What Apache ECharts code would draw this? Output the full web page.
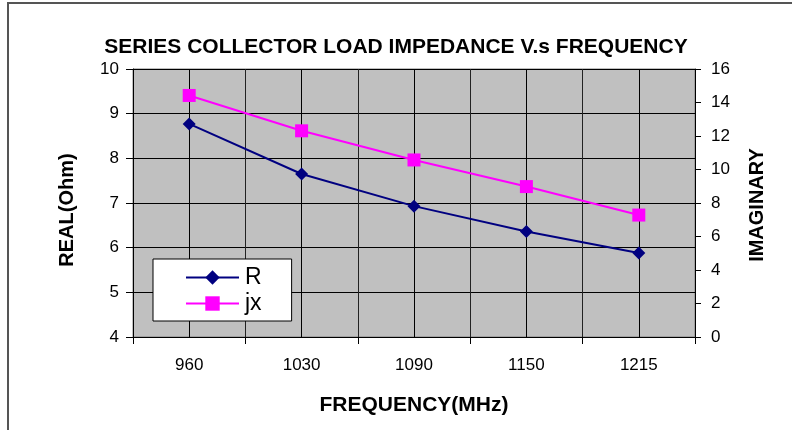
<!DOCTYPE html>
<html><head><meta charset="utf-8">
<script src="https://cdn.jsdelivr.net/npm/echarts@6/dist/echarts.min.js"></script>
<style>html,body{margin:0;padding:0;background:#fff}#c{width:792px;height:430px}</style>
</head><body><div id="c"></div>
<script>
const categories = ['960', '1030', '1090', '1150', '1215'];
const realValues = [8.77, 7.65, 6.93, 6.36, 5.88];
const imagValues = [14.42, 12.31, 10.57, 8.98, 7.28];
const titleText = 'SERIES COLLECTOR LOAD IMPEDANCE V.s FREQUENCY';

const chart = echarts.init(document.getElementById('c'), null, {renderer: 'canvas'});
const F = '"Liberation Sans", Arial, sans-serif';
chart.setOption({
  animation: false,
  backgroundColor: '#fff',
  title: {text: titleText, left: 'center', top: 32,
    textStyle: {fontFamily: F, fontSize: 21, fontWeight: 'bold', color: '#000'}},
  graphic: [
    {type: 'polyline', shape: {points: [[8, 430], [8, 3], [792, 3]]}, style: {stroke: '#555', lineWidth: 2, fill: null}, silent: true}
  ],
  grid: {left: 133, right: 97, top: 69, bottom: 93, show: true, backgroundColor: '#c0c0c0', borderColor: '#808080', borderWidth: 1},
  legend: {
    orient: 'vertical', left: 153, top: 259,
    backgroundColor: '#fff', borderColor: '#000', borderWidth: 1,
    padding: [7, 30, 6, 32], itemGap: 3, itemWidth: 53, itemHeight: 18,
    textStyle: {fontFamily: F, fontSize: 23, color: '#000', padding: [0, 0, 0, 1]},
    data: ['R', 'jx']
  },
  xAxis: [
    {type: 'category', data: categories, boundaryGap: true,
      axisLine: {lineStyle: {color: '#000', width: 1}},
      axisTick: {show: true, alignWithLabel: false, interval: 0, length: 7, lineStyle: {color: '#000'}},
      axisLabel: {fontFamily: F, fontSize: 17, color: '#000', margin: 20, interval: 0},
      splitLine: {show: true, interval: 0, lineStyle: {color: '#222', width: 1}},
      name: 'FREQUENCY(MHz)', nameLocation: 'middle', nameGap: 58,
      nameTextStyle: {fontFamily: F, fontSize: 21, fontWeight: 'bold', color: '#000'}}
  ],
  yAxis: [
    {type: 'value', min: 4, max: 10, interval: 1, position: 'left',
      axisLine: {show: true, lineStyle: {color: '#000'}},
      axisTick: {show: true, length: 7, lineStyle: {color: '#000'}},
      axisLabel: {fontFamily: F, fontSize: 17, color: '#000', margin: 14},
      splitLine: {show: true, lineStyle: {color: '#000', width: 1}},
      name: 'REAL(Ohm)', nameLocation: 'middle', nameGap: 56, nameRotate: 90,
      nameTextStyle: {fontFamily: F, fontSize: 20, fontWeight: 'bold', color: '#000', padding: [0, 14, 0, 0]}},
    {type: 'value', min: 0, max: 16, interval: 2, position: 'right',
      axisLine: {show: true, lineStyle: {color: '#000'}},
      axisTick: {show: true, length: 6, lineStyle: {color: '#000'}},
      axisLabel: {fontFamily: F, fontSize: 17, color: '#000', margin: 16},
      splitLine: {show: false},
      name: 'IMAGINARY', nameLocation: 'middle', nameGap: 52, nameRotate: 90,
      nameTextStyle: {fontFamily: F, fontSize: 20, fontWeight: 'bold', color: '#000', padding: [0, 4, 0, 0]}}
  ],
  series: [
    {name: 'R', type: 'line', xAxisIndex: 0, yAxisIndex: 0, data: realValues,
      symbol: 'diamond', symbolSize: 13, z: 3,
      lineStyle: {color: '#000080', width: 2}, itemStyle: {color: '#000080'},
      markLine: {silent: true, symbol: ['none', 'none'], label: {show: false}, animation: false,
        lineStyle: {color: '#000', width: 1, type: 'solid'}, z: 1,
        data: categories.map(c => ({xAxis: c}))}},
    {name: 'jx', type: 'line', xAxisIndex: 0, yAxisIndex: 1, data: imagValues,
      symbol: 'rect', symbolSize: 13, z: 4,
      lineStyle: {color: '#ff00ff', width: 2}, itemStyle: {color: '#ff00ff'}}
  ]
});
</script></body></html>
